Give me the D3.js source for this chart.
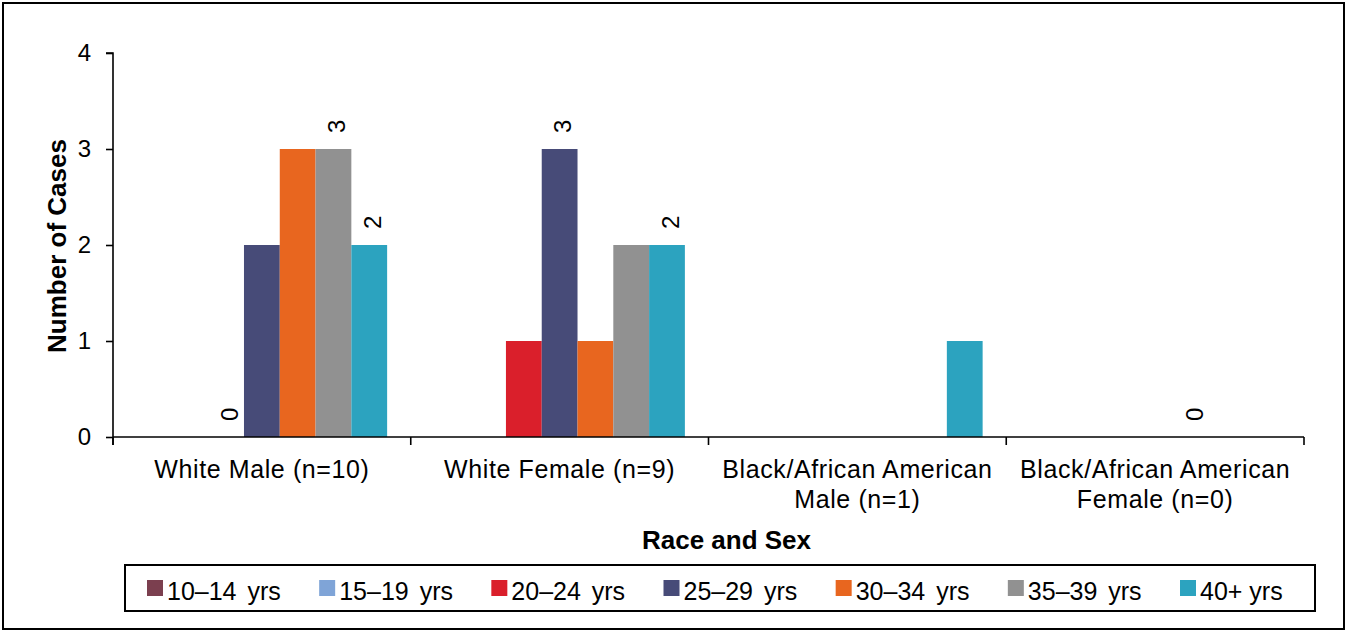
<!DOCTYPE html>
<html>
<head>
<meta charset="utf-8">
<script src="https://cdn.jsdelivr.net/npm/d3@7"></script>
<style>
  html, body { margin: 0; padding: 0; background: #fff; }
  svg { display: block; font-family: "Liberation Sans", Arial, sans-serif; }
</style>
</head>
<body>
<svg id="chart" width="1347" height="632"></svg>
<script>
// ---- data ----
const categories = ["White Male (n=10)", "White Female (n=9)", "Black/African American Male (n=1)", "Black/African American Female (n=0)"];
const categoryLines = [["White Male (n=10)"], ["White Female (n=9)"], ["Black/African American", "Male (n=1)"], ["Black/African American", "Female (n=0)"]];
const series = ["10–14 yrs", "15–19 yrs", "20–24 yrs", "25–29 yrs", "30–34 yrs", "35–39 yrs", "40+ yrs"];
const colors = ["#7B3F4F", "#7FA4D7", "#DA1F2B", "#474B78", "#E8661F", "#919191", "#2CA3BF"];
const valuesWhiteMale = [0, 0, 0, 2, 3, 3, 2];
const valuesWhiteFemale = [0, 0, 1, 3, 1, 2, 2];
const valuesBlackMale = [0, 0, 0, 0, 0, 0, 1];
const valuesBlackFemale = [0, 0, 0, 0, 0, 0, 0];
const yTicks = [0, 1, 2, 3, 4];
// data labels shown in the original: [category index, series index]
const shownLabels = [[0, 2], [0, 5], [0, 6], [1, 3], [1, 6], [3, 4]];

const allValues = [valuesWhiteMale, valuesWhiteFemale, valuesBlackMale, valuesBlackFemale];

const svg = d3.select("#chart");

// outer frame
svg.append("rect").attr("x", 3).attr("y", 3).attr("width", 1341).attr("height", 626)
  .attr("fill", "none").attr("stroke", "#000").attr("stroke-width", 2);

const plotLeft = 113, plotRight = 1304, plotTop = 53, plotBottom = 437;

const x0 = d3.scaleBand().domain(categories).range([plotLeft, plotRight]).padding(0);
const x1 = d3.scaleBand().domain(series).range([0, x0.bandwidth()]).paddingInner(0).paddingOuter(0.66);
const y = d3.scaleLinear().domain([0, 4]).range([plotBottom, plotTop]);
const color = d3.scaleOrdinal().domain(series).range(colors);

// bars
const groups = svg.append("g").selectAll("g").data(categories).join("g")
  .attr("transform", d => `translate(${x0(d)},0)`);
groups.selectAll("rect")
  .data((c, ci) => series.map((s, si) => ({ s, v: allValues[ci][si] })).filter(d => d.v > 0))
  .join("rect")
  .attr("x", d => x1(d.s))
  .attr("y", d => y(d.v))
  .attr("width", x1.bandwidth())
  .attr("height", d => y(0) - y(d.v))
  .attr("fill", d => color(d.s));

// data labels (rotated)
svg.append("g").selectAll("text").data(shownLabels).join("text")
  .attr("transform", ([ci, si]) => {
    const cx = x0(categories[ci]) + x1(series[si]) + x1.bandwidth() / 2 + 3;
    const yy = y(allValues[ci][si]) - 16;
    return `translate(${cx},${yy}) rotate(-90)`;
  })
  .attr("dy", "0.36em")
  .attr("font-size", 24)
  .attr("fill", "#000")
  .text(([ci, si]) => allValues[ci][si]);

// y axis
const yAxis = d3.axisLeft(y).tickValues(yTicks).tickSize(7).tickPadding(15).tickFormat(d3.format("d"));
const gy = svg.append("g").attr("transform", `translate(${plotLeft},0)`).call(yAxis);
gy.select(".domain").attr("stroke", "#000").attr("stroke-width", 1.6).attr("d", `M-7,${plotTop}H0V${plotBottom + 8}`);
gy.selectAll(".tick line").attr("stroke", "#000").attr("stroke-width", 1.6);
gy.selectAll(".tick text").attr("font-size", 24).attr("fill", "#000")
  .attr("font-family", "'Liberation Sans', Arial, sans-serif");

// x axis line + boundary ticks
const xAxis = d3.axisBottom(x0).tickSize(0).tickFormat("");
const gx = svg.append("g").attr("transform", `translate(0,${plotBottom})`).call(xAxis);
gx.select(".domain").attr("stroke", "#000").attr("stroke-width", 1.6).attr("d", `M${plotLeft},0H${plotRight}`);
gx.selectAll(".tick").remove();
const bounds = categories.map(c => x0(c)).concat([x0.range()[1]]);
gx.selectAll("line.bound").data(bounds).join("line").attr("class", "bound")
  .attr("x1", d => d).attr("x2", d => d).attr("y1", 0).attr("y2", 8)
  .attr("stroke", "#000").attr("stroke-width", 1.6);

// category labels
const catText = svg.append("g").selectAll("text").data(categories).join("text")
  .attr("x", d => x0(d) + x0.bandwidth() / 2)
  .attr("y", 478)
  .attr("text-anchor", "middle")
  .attr("font-size", 25)
  .attr("letter-spacing", 0.6)
  .attr("fill", "#000");
catText.selectAll("tspan").data((d, i) => categoryLines[i]).join("tspan")
  .attr("x", function () { return d3.select(this.parentNode).attr("x"); })
  .attr("dy", (d, i) => i === 0 ? 0 : 30)
  .text(d => d);

// axis titles
svg.append("text").attr("transform", "translate(57,246) rotate(-90)")
  .attr("text-anchor", "middle").attr("dy", "0.35em")
  .attr("font-size", 26).attr("font-weight", "bold").attr("fill", "#000")
  .text("Number of Cases");
svg.append("text").attr("x", (plotLeft + plotRight) / 2 + 18).attr("y", 549)
  .attr("text-anchor", "middle")
  .attr("font-size", 26).attr("font-weight", "bold").attr("fill", "#000")
  .text("Race and Sex");

// legend
svg.append("rect").attr("x", 125).attr("y", 565).attr("width", 1190).attr("height", 46)
  .attr("fill", "none").attr("stroke", "#000").attr("stroke-width", 2);
const lx = d3.scalePoint().domain(series).range([147, 1180]);
const li = svg.append("g").selectAll("g").data(series).join("g")
  .attr("transform", d => `translate(${lx(d)},580)`);
li.append("rect").attr("width", 16).attr("height", 16).attr("fill", d => color(d));
li.append("text").attr("x", 20).attr("y", 20)
  .attr("font-size", 25).attr("fill", "#000")
  .attr("word-spacing", d => d.startsWith("40") ? 0 : 4)
  .text(d => d);
</script>
</body>
</html>
